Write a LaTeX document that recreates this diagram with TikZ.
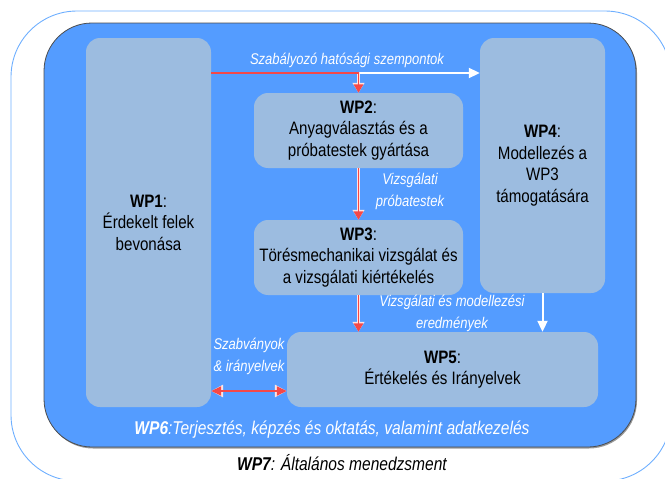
\documentclass[tikz,border=0pt]{standalone}
\usepackage{fontspec}
\setmainfont{Liberation Sans}[FakeStretch=0.84]
\usetikzlibrary{arrows.meta}
\definecolor{outerline}{RGB}{110,175,255}
\definecolor{wpblue}{RGB}{84,156,255}
\definecolor{boxfill}{RGB}{156,188,224}
\definecolor{arrred}{RGB}{245,72,72}
\begin{document}
\begin{tikzpicture}[x=1pt,y=-1pt,
  wpbox/.style={fill=boxfill, rounded corners=14pt, inner sep=2pt, align=center,
    font=\fontsize{18}{21.5}\selectfont, text=black},
  lbl/.style={text=white, font=\fontsize{15.5}{21.5}\selectfont\itshape, align=center, inner sep=0pt},
  redarr/.style={draw=arrred, line width=1.7pt, -{Triangle[length=8.5pt,width=9.5pt]},
    preaction={draw=white!85!arrred, line width=2.8pt, -{Triangle[length=10pt,width=11.5pt]}}},
  redboth/.style={draw=arrred, line width=1.7pt, {Triangle[length=10pt,width=9pt]}-{Triangle[length=10pt,width=9pt]},
    preaction={draw=white!85!arrred, line width=2.8pt, {Triangle[length=12pt,width=12pt]}-{Triangle[length=12pt,width=12pt]}}},
  whitearr/.style={draw=white, line width=2pt, -{Triangle[length=11pt,width=10pt]}}
]
\useasboundingbox (0,0) rectangle (665,479);
% outer frame (WP7)
\draw[outerline, line width=0.9pt, rounded corners=66pt] (11,11) rectangle (671,481);
% WP6 container
\draw[fill=black!40, draw=none, rounded corners=48pt] (45,24.5) rectangle (637,448.5);
\draw[fill=wpblue, draw=black!70, line width=0.8pt, rounded corners=48pt] (44,23) rectangle (636,447);

% boxes
\node[wpbox, minimum width=125pt, minimum height=369pt] (wp1) at (148.5,222.5)
  {{\bfseries WP1}:\\Érdekelt felek\\bevonása};
\node[wpbox, minimum width=209pt, minimum height=75pt] (wp2) at (358.5,130.5)
  {{\bfseries WP2}:\\Anyagválasztás és a\\próbatestek gyártása};
\node[wpbox, minimum width=209pt, minimum height=75pt] (wp3) at (358.5,257.5)
  {{\bfseries WP3}:\\Törésmechanikai vizsgálat és\\a vizsgálati kiértékelés};
\node[wpbox, minimum width=125pt, minimum height=255pt] (wp4) at (542.5,165.5)
  {{\bfseries WP4}:\\Modellezés a\\WP3\\támogatására};
\node[wpbox, minimum width=311pt, minimum height=75pt] (wp5) at (442.5,369.5)
  {{\bfseries WP5}:\\Értékelés és Irányelvek};

% connectors
\coordinate (ya) at (0,73);
\coordinate (yb) at (0,391);
\draw[whitearr] (wp1.east |- ya) -- (wp4.west |- ya);
\draw[redarr] (wp1.east |- ya) -| (wp2.north);
\draw[redarr] (wp2.south) -- (wp3.north);
\draw[redarr] (wp3.south) -- (wp3.south |- wp5.north);
\draw[whitearr] (wp4.south) -- (wp4.south |- wp5.north);
\draw[redboth] (wp1.east |- yb) -- (wp5.west |- yb);

% labels
\node[lbl] (l1) at (347,60) {Szabályozó hatósági szempontok};
\node[lbl] (l2) at (410,191.5) {Vizsgálati\\próbatestek};
\node[lbl] (l3) at (452,313.5) {Vizsgálati és modellezési\\eredmények};
\node[lbl] (l4) at (249,356.5) {Szabványok\\\& irányelvek};
\node[text=white, font=\fontsize{18.5}{22}\selectfont\itshape, inner sep=0pt] (wp6) at (332,430)
  {{\bfseries WP6}:Terjesztés, képzés és oktatás, valamint adatkezelés};
\node[text=black, font=\fontsize{18.5}{22}\selectfont\itshape, inner sep=0pt] (wp7) at (342,463)
  {{\bfseries WP7}: Általános menedzsment};
\end{tikzpicture}
\end{document}
